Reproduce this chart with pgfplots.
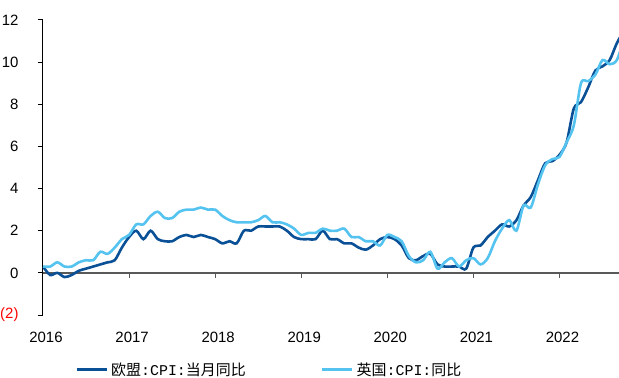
\documentclass[border=0pt]{standalone}
\usepackage{fontspec}
\setmainfont{Liberation Sans}
\setmonofont{Liberation Mono}
\newfontfamily\cjk{Noto Sans CJK SC}
\usepackage{pgfplots}
\pgfplotsset{compat=1.18}
\usepackage{pgfplotstable}
\definecolor{euc}{RGB}{10,80,150}
\definecolor{ukc}{RGB}{85,195,240}
\definecolor{zl}{RGB}{89,89,89}

\pgfplotstableread{
m eu uk
0 0.3 0.3
1 -0.1 0.3
2 0.0 0.5
3 -0.2 0.3
4 -0.1 0.3
5 0.1 0.5
6 0.2 0.6
7 0.3 0.6
8 0.4 1.0
9 0.5 0.9
10 0.6 1.2
11 1.2 1.6
12 1.7 1.8
13 2.0 2.3
14 1.6 2.3
15 2.0 2.7
16 1.6 2.9
17 1.5 2.6
18 1.5 2.6
19 1.7 2.9
20 1.8 3.0
21 1.7 3.0
22 1.8 3.1
23 1.7 3.0
24 1.6 3.0
25 1.4 2.7
26 1.5 2.5
27 1.4 2.4
28 2.0 2.4
29 2.0 2.4
30 2.2 2.5
31 2.2 2.7
32 2.2 2.4
33 2.2 2.4
34 2.0 2.3
35 1.7 2.1
36 1.6 1.8
37 1.6 1.9
38 1.6 1.9
39 2.0 2.1
40 1.6 2.0
41 1.6 2.0
42 1.4 2.1
43 1.4 1.7
44 1.2 1.7
45 1.1 1.5
46 1.3 1.5
47 1.6 1.3
48 1.7 1.8
49 1.6 1.7
50 1.3 1.5
51 0.7 0.8
52 0.6 0.5
53 0.8 0.6
54 0.9 1.0
55 0.4 0.2
56 0.3 0.5
57 0.3 0.7
58 0.3 0.3
59 0.2 0.6
60 1.2 0.7
61 1.3 0.4
62 1.7 0.7
63 2.0 1.5
64 2.3 2.1
65 2.2 2.5
66 2.5 2.0
67 3.2 3.2
68 3.6 3.1
69 4.4 4.2
70 5.2 5.1
71 5.3 5.4
72 5.6 5.5
73 6.2 6.2
74 7.8 7.0
75 8.1 9.0
76 8.8 9.1
77 9.6 9.4
78 9.8 10.1
79 10.1 9.9
80 10.9 10.1
81 11.5 11.1
}\cpidata

\begin{document}
\begin{tikzpicture}
\useasboundingbox (-43bp,-63bp) rectangle (576bp,315bp);
\begin{axis}[
  at={(0bp,0bp)}, anchor=south west,
  width=576bp, height=295bp, scale only axis,
  xmin=0, xmax=80.3, ymin=-2, ymax=12,
  axis y line*=left, axis x line*=bottom,
  x axis line style={draw=none},
  y axis line style={black, line width=1bp},
  ytick={-2,0,2,4,6,8,10,12},
  yticklabels={\textcolor{red}{(2)},0,2,4,6,8,10,12},
  xtick={0,12,24,36,48,60,72},
  xticklabels={2016,2017,2018,2019,2020,2021,2022},
  xtick style={draw=none},
  ytick style={black, line width=1bp},
  tick align=outside,
  major tick length=5bp,
  tick label style={font=\fontsize{15}{18}\selectfont},
  yticklabel style={xshift=-16bp},
  xticklabel style={yshift=-9bp, xshift=3bp},
  legend columns=2,
  legend cell align=left,
  legend style={at={(0.0556,-0.185)}, anchor=west, draw=none, fill=none,
    inner sep=0pt, font=\fontsize{15}{18}\selectfont,
    nodes={inner xsep=3bp, inner ysep=1bp},
    /tikz/every even column/.append style={column sep=72bp}},
  legend image code/.code={\draw[#1, line width=3bp] (0bp,0bp) -- (30bp,0bp);},
]
\draw[zl, line width=2bp] (axis cs:0,0) -- (axis cs:80.3,0);
\pgfplotsinvokeforeach{12,24,36,48,60,72}{
  \draw[zl, line width=1bp] (axis cs:#1,0) -- ++(0bp,-5bp);
}
\addplot[euc, line width=2.6bp, smooth] table[x=m, y=eu] {\cpidata};
\addlegendentry{{\cjk 欧盟}\texttt{:CPI:}{\cjk 当月同比}}
\addplot[ukc, line width=2.6bp, smooth] table[x=m, y=uk] {\cpidata};
\addlegendentry{{\cjk 英国}\texttt{:CPI:}{\cjk 同比}}
\end{axis}
\end{tikzpicture}
\end{document}
